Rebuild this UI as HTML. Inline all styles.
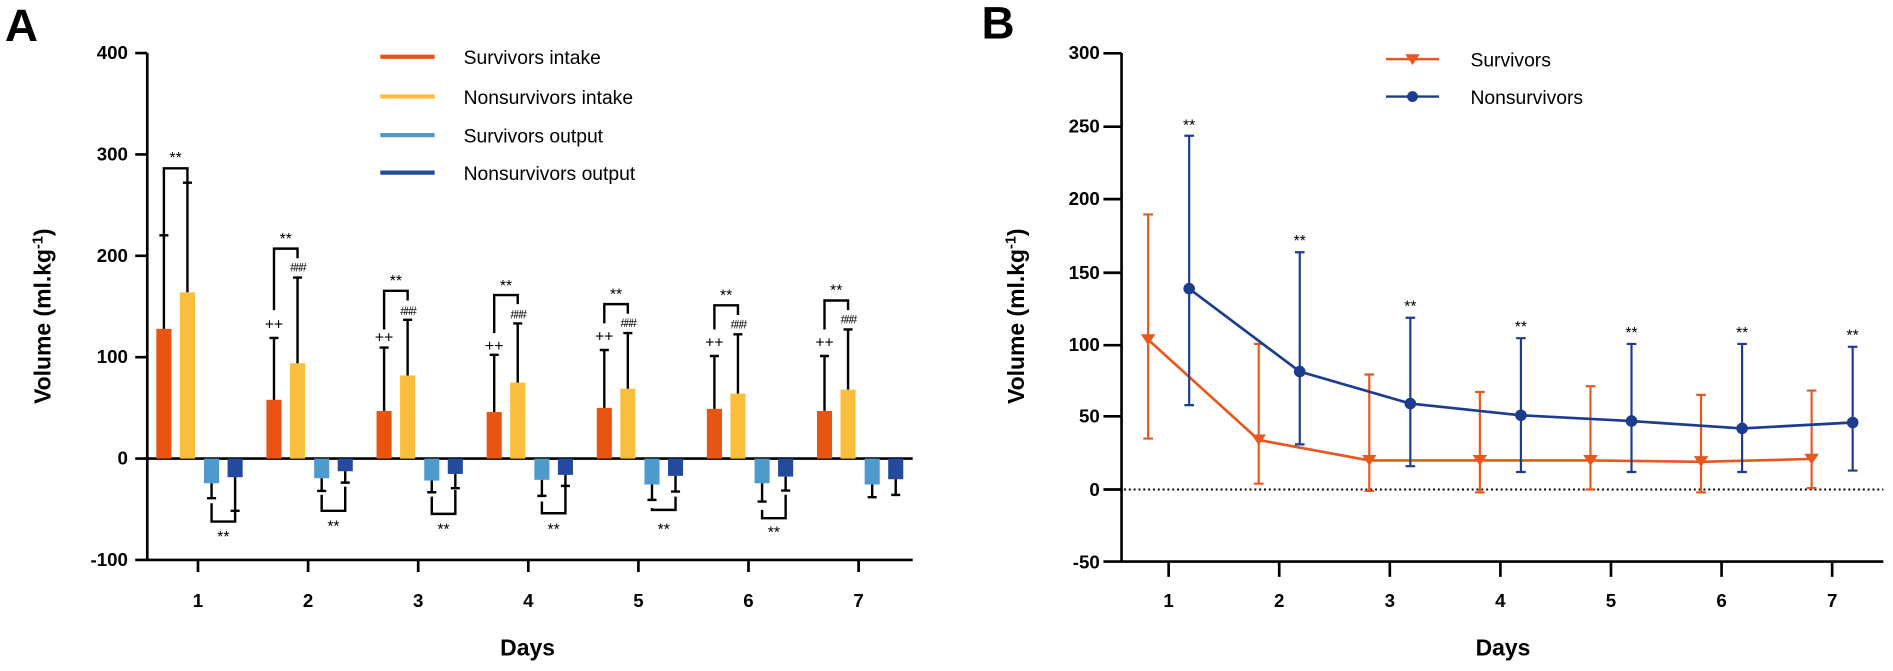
<!DOCTYPE html>
<html><head><meta charset="utf-8"><style>
html,body{margin:0;padding:0;background:#fff;}
svg{display:block;}
text{font-family:"Liberation Sans",Arial,sans-serif;}
.t{font-weight:bold;font-size:15.5px;}
.ax{stroke:#000;stroke-width:2.2;fill:none;}
.e{stroke:#000;stroke-width:2;fill:none;}
.s{font-size:13px;}
</style></head><body>
<svg width="1893" height="671" viewBox="0 0 1568 556" preserveAspectRatio="none" xmlns="http://www.w3.org/2000/svg">
<!-- Panel A -->
<text x="4" y="34" font-size="38" font-weight="bold">A</text>
<text transform="translate(42,262) rotate(-90)" text-anchor="middle" font-size="19" font-weight="bold">Volume (ml.kg<tspan dy="-7" font-size="12">-1</tspan><tspan dy="7">)</tspan></text>
<g class="t" text-anchor="end">
<text x="106" y="49">400</text><text x="106" y="133">300</text><text x="106" y="217">200</text><text x="106" y="301">100</text><text x="106" y="385">0</text><text x="106" y="469">-100</text>
</g>
<path class="ax" d="M122 44V464M112 44H122M112 128H122M112 212H122M112 296H122M112 380H756M112 464H756"/>
<path class="ax" d="M164 464v10M255.2 464v10M346.4 464v10M437.6 464v10M528.8 464v10M620 464v10M711.2 464v10"/>
<g class="t" text-anchor="middle"><text x="164" y="503">1</text><text x="255.2" y="503">2</text><text x="346.4" y="503">3</text><text x="437.6" y="503">4</text><text x="528.8" y="503">5</text><text x="620" y="503">6</text><text x="711.2" y="503">7</text></g>
<text x="437" y="543" text-anchor="middle" font-size="19" font-weight="bold">Days</text>
<!-- legend A -->
<g stroke-width="3.5">
<line x1="315" y1="47" x2="360" y2="47" stroke="#E85513"/><line x1="315" y1="80" x2="360" y2="80" stroke="#F9BE3B"/>
<line x1="315" y1="112" x2="360" y2="112" stroke="#4F9ACD"/><line x1="315" y1="143" x2="360" y2="143" stroke="#234A9C"/>
</g>
<g font-size="16"><text x="384" y="53">Survivors intake</text><text x="384" y="86">Nonsurvivors intake</text><text x="384" y="118">Survivors output</text><text x="384" y="149">Nonsurvivors output</text></g>
<g fill="#E85513">
<rect x="129.5" y="272.5" width="12.5" height="107.5"/><rect x="220.7" y="331.3" width="12.5" height="48.7"/><rect x="311.9" y="340.5" width="12.5" height="39.5"/><rect x="403.1" y="341.4" width="12.5" height="38.6"/><rect x="494.3" y="338" width="12.5" height="42"/><rect x="585.5" y="338.8" width="12.5" height="41.2"/><rect x="676.7" y="340.5" width="12.5" height="39.5"/>
</g>
<g fill="#F9BE3B">
<rect x="149" y="242.2" width="12.5" height="137.8"/><rect x="240.2" y="301" width="12.5" height="79"/><rect x="331.4" y="311.1" width="12.5" height="68.9"/><rect x="422.6" y="317" width="12.5" height="63"/><rect x="513.8" y="322" width="12.5" height="58"/><rect x="605" y="326.2" width="12.5" height="53.8"/><rect x="696.2" y="322.9" width="12.5" height="57.1"/>
</g>
<g fill="#4F9ACD">
<rect x="169" y="380" width="12.5" height="20.4"/><rect x="260.2" y="380" width="12.5" height="16.3"/><rect x="351.4" y="380" width="12.5" height="18.2"/><rect x="442.6" y="380" width="12.5" height="17.6"/><rect x="533.8" y="380" width="12.5" height="21.5"/><rect x="625" y="380" width="12.5" height="20.4"/><rect x="716.2" y="380" width="12.5" height="21.5"/>
</g>
<g fill="#234A9C">
<rect x="188.5" y="380" width="12.5" height="15.4"/><rect x="279.7" y="380" width="12.5" height="10.5"/><rect x="370.9" y="380" width="12.5" height="12.7"/><rect x="462.1" y="380" width="12.5" height="13.5"/><rect x="553.3" y="380" width="12.5" height="14.3"/><rect x="644.5" y="380" width="12.5" height="14.9"/><rect x="735.7" y="380" width="12.5" height="17.1"/>
</g>
<path class="e" d="M135.75 272.5V195M132 195h7.5M155.25 242.2V151.4M151.5 151.4h7.5
M226.95 331.3V280M223.2 280h7.5M246.45 301V230M242.7 230h7.5
M318.15 340.5V288M314.4 288h7.5M337.65 311.1V265M333.9 265h7.5
M409.35 341.4V294M405.6 294h7.5M428.85 317V268M425.1 268h7.5
M500.55 338V290M496.8 290h7.5M520.05 322V276M516.3 276h7.5
M591.75 338.8V295M588 295h7.5M611.25 326.2V277M607.5 277h7.5
M682.95 340.5V295M679.2 295h7.5M702.45 322.9V273M698.7 273h7.5"/>
<path class="e" d="M135.75 195V139.5H155.25V151
M226.95 257V206H246.45V214
M318.15 273V241H337.65V249
M409.35 276V244.5H428.85V252
M500.55 268V252H520.05V260
M591.75 273V253H611.25V261
M682.95 273V249H702.45V257"/>
<g class="s" text-anchor="middle">
<text x="145.5" y="135">**</text><text x="236.7" y="202">**</text><text x="327.9" y="237">**</text><text x="419.1" y="241">**</text><text x="510.3" y="248">**</text><text x="601.5" y="249">**</text><text x="692.7" y="245">**</text>
<text x="226.95" y="273">++</text><text x="318.15" y="284">++</text><text x="409.35" y="291">++</text><text x="500.55" y="283">++</text><text x="591.75" y="288">++</text><text x="682.95" y="288">++</text>
</g>
<g font-size="10" text-anchor="middle" letter-spacing="-1.5">
<text x="246.45" y="225">###</text><text x="337.65" y="261">###</text><text x="428.85" y="264">###</text><text x="520.05" y="271">###</text><text x="611.25" y="272">###</text><text x="702.45" y="268">###</text>
</g>
<path class="e" d="M175.25 400.4V412.8M171.5 412.8h7.5M194.75 395.4V423.3M191 423.3h7.5
M266.45 396.3V406.8M262.7 406.8h7.5M285.95 390.5V399.9M282.2 399.9h7.5
M357.65 398.2V407.9M353.9 407.9h7.5M377.15 392.7V404.5M373.4 404.5h7.5
M448.85 397.6V410.9M445.1 410.9h7.5M468.35 393.5V402.6M464.6 402.6h7.5
M540.05 401.5V414.2M536.3 414.2h7.5M559.55 394.3V407.3M555.8 407.3h7.5
M631.25 400.4V415.6M627.5 415.6h7.5M650.75 394.9V406.5M647 406.5h7.5
M722.45 401.5V412M718.7 412h7.5M741.95 397.1V410.1M738.2 410.1h7.5"/>
<path class="e" d="M175.25 417V432.2H194.75V423.3
M266.45 410V423.3H285.95V403.2
M357.65 411.5V425.8H377.15V406
M448.85 415.6V425.3H468.35V403
M540.05 421V422.5H559.55V411.5
M631.25 422.5V429.4H650.75V410"/>
<g class="s" text-anchor="middle">
<text x="185" y="449">**</text><text x="276.2" y="440.5">**</text><text x="367.4" y="442.7">**</text><text x="458.6" y="442.7">**</text><text x="549.8" y="442.7">**</text><text x="641" y="445.5">**</text>
</g>

<!-- Panel B -->
<text x="813" y="32" font-size="38" font-weight="bold">B</text>
<text transform="translate(848,262) rotate(-90)" text-anchor="middle" font-size="19" font-weight="bold">Volume (ml.kg<tspan dy="-7" font-size="12">-1</tspan><tspan dy="7">)</tspan></text>
<g class="t" text-anchor="end">
<text x="911" y="49">300</text><text x="911" y="110">250</text><text x="911" y="170">200</text><text x="911" y="231">150</text><text x="911" y="291">100</text><text x="911" y="350">50</text><text x="911" y="411">0</text><text x="911" y="471">-50</text>
</g>
<path class="ax" d="M929 44V465.3M914 44.2H929M914 105H929M914 165H929M914 226H929M914 286H929M914 345H929M914 405.6H929M914 465.3H1560"/>
<path class="ax" d="M968 465v13M1059.6 465v13M1151.2 465v13M1242.8 465v13M1334.4 465v13M1426 465v13M1517.6 465v13"/>
<line x1="931" y1="405.6" x2="1560" y2="405.6" stroke="#000" stroke-width="1.6" stroke-dasharray="1.6,2.4"/>
<g class="t" text-anchor="middle"><text x="968" y="503">1</text><text x="1059.6" y="503">2</text><text x="1151.2" y="503">3</text><text x="1242.8" y="503">4</text><text x="1334.4" y="503">5</text><text x="1426" y="503">6</text><text x="1517.6" y="503">7</text></g>
<text x="1245" y="543" text-anchor="middle" font-size="19" font-weight="bold">Days</text>
<line x1="1148" y1="49" x2="1192" y2="49" stroke="#E8581E" stroke-width="2"/><path d="M1164 45h12l-6 9z" fill="#E8581E"/>
<line x1="1148" y1="80" x2="1192" y2="80" stroke="#1D3C8F" stroke-width="2"/><circle cx="1170" cy="80" r="4.5" fill="#1D3C8F"/>
<g font-size="16"><text x="1218" y="55">Survivors</text><text x="1218" y="86">Nonsurvivors</text></g>
<g stroke="#E8581E" stroke-width="1.8" fill="none">
<path d="M951 363.4V177.7M947 177.7h8M947 363.4h8
M1042.6 400.8V285M1038.6 285h8M1038.6 400.8h8
M1134.2 406.8V310.3M1130.2 310.3h8M1130.2 406.8h8
M1225.8 408V324.8M1221.8 324.8h8M1221.8 408h8
M1317.4 405.6V320M1313.4 320h8M1313.4 405.6h8
M1409 408V327.2M1405 327.2h8M1405 408h8
M1500.6 404.4V323.6M1496.6 323.6h8M1496.6 404.4h8"/>
<polyline stroke-width="2.2" points="951,281.4 1042.6,364.6 1134.2,381.5 1225.8,381.5 1317.4,381.5 1409,382.7 1500.6,380.3"/>
</g>
<g fill="#E8581E">
<path d="M945 277h12l-6 9z"/><path d="M1036.6 360h12l-6 9z"/><path d="M1128.2 377h12l-6 9z"/><path d="M1219.8 377h12l-6 9z"/><path d="M1311.4 377h12l-6 9z"/><path d="M1403 378h12l-6 9z"/><path d="M1494.6 376h12l-6 9z"/>
</g>
<g stroke="#1D3C8F" stroke-width="1.8" fill="none">
<path d="M985 335.7V112.5M981 112.5h8M981 335.7h8
M1076.6 368.2V209M1072.6 209h8M1072.6 368.2h8
M1168.2 386.3V263.3M1164.2 263.3h8M1164.2 386.3h8
M1259.8 391.1V280.2M1255.8 280.2h8M1255.8 391.1h8
M1351.4 391.1V285M1347.4 285h8M1347.4 391.1h8
M1443 391.1V285M1439 285h8M1439 391.1h8
M1534.6 389.9V287.4M1530.6 287.4h8M1530.6 389.9h8"/>
<polyline stroke-width="2.2" points="985,239.2 1076.6,307.9 1168.2,334.4 1259.8,344.1 1351.4,348.9 1443,355 1534.6,350.1"/>
</g>
<g fill="#1D3C8F">
<circle cx="985" cy="239.2" r="4.8"/><circle cx="1076.6" cy="307.9" r="4.8"/><circle cx="1168.2" cy="334.4" r="4.8"/><circle cx="1259.8" cy="344.1" r="4.8"/><circle cx="1351.4" cy="348.9" r="4.8"/><circle cx="1443" cy="355" r="4.8"/><circle cx="1534.6" cy="350.1" r="4.8"/>
</g>
<g class="s" text-anchor="middle">
<text x="985" y="108">**</text><text x="1076.6" y="204">**</text><text x="1168.2" y="258">**</text><text x="1259.8" y="275">**</text><text x="1351.4" y="280">**</text><text x="1443" y="280">**</text><text x="1534.6" y="282">**</text>
</g>
</svg>
</body></html>
